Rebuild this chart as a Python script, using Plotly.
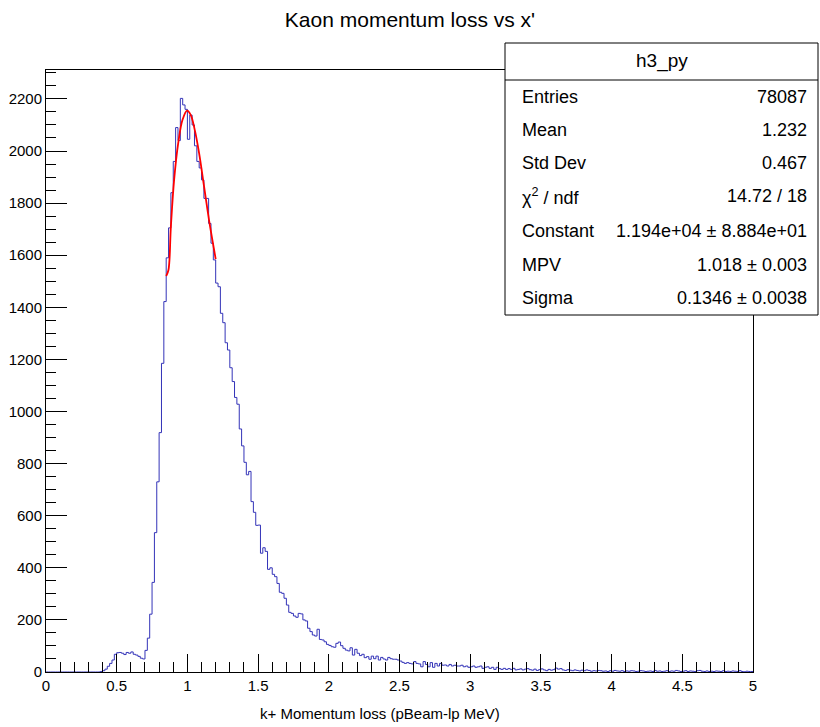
import numpy as np
import plotly.graph_objects as go

# ---------------- data ----------------
n_bins = 300
x_min, x_max = 0.0, 5.0

counts = (
    [0] * 23 +
    [2, 5, 11, 22, 33, 46, 68, 74, 75, 72,            # 23-32
     67, 75, 72, 77, 68, 65, 60, 53, 50, 83,           # 33-42
     130, 222, 344, 535, 730, 919, 1185, 1422, 1590, 1705,   # 43-52
     1840, 1960, 2090, 2040, 2202, 2177, 2160, 2045, 2138, 2100,  # 53-62
     2020, 1960, 1935, 1889, 1818, 1818, 1722, 1646, 1582, 1493,  # 63-72
     1479, 1377, 1341, 1264, 1236, 1168, 1115, 1054, 1028, 933,   # 73-82
     868, 805, 757, 770, 654, 613, 563, 564, 456, 477,            # 83-92
     463, 394, 400, 375, 366, 340, 306, 302, 283, 257,            # 93-102
     229, 225, 215, 210, 225, 223, 200, 196, 168, 155,            # 103-112
     142, 138, 164, 125, 123, 116, 106, 102, 97, 95,              # 113-122
     110, 115, 101, 91, 84, 81, 93, 65, 87, 72,                   # 123-132
     63, 68, 55, 59, 49, 61, 51, 61, 46, 56,                      # 133-142
     50, 46, 56, 51, 49, 49, 46, 42, 37, 33,                      # 143-152
     36, 33, 31, 40, 33, 31, 20, 40, 29, 20,                      # 153-162
     36, 18, 33, 23, 33, 26, 27, 23, 29, 23,                      # 163-172
     26, 23, 23, 26, 20, 23, 18, 20, 23, 18,                      # 173-182
     20, 23, 14, 18, 20, 14, 18, 10, 18, 13,                      # 183-192
     10, 14, 10, 13, 10, 14, 8,                                   # 193-199
     10, 12, 8, 11, 13, 9, 7, 11, 6, 9,                           # 200-209
     12, 8, 5, 10, 7, 9, 15, 11, 13, 8,                           # 210-219
     6, 9, 7, 5, 8, 6, 4, 7, 5, 8,                                # 220-229
     6, 3, 5, 4, 6, 5, 3, 4, 2, 5,                                # 230-239
     3, 6, 4, 3, 5, 2, 4, 3, 5, 4,                                # 240-249
     2, 3, 5, 4, 2, 3, 4, 2, 6, 3,                                # 250-259
     4, 2, 3, 5, 2, 4, 3, 6, 4, 2,                                # 260-269
     3, 5, 2, 4, 3, 2, 5, 6, 3, 2,                                # 270-279
     4, 2, 3, 2, 4, 3, 2, 5, 2, 3,                                # 280-289
     2, 4, 3, 2, 5, 2, 1, 3, 2, 2]                                # 290-299
)

# red fit curve
fit_x = [0.850, 0.866, 0.883, 0.906, 0.935, 0.965, 0.998, 1.024, 1.052,
         1.083, 1.118, 1.153, 1.189, 1.200]
fit_y = [1520, 1543, 1709, 1889, 2030, 2119, 2155, 2138, 2081,
         1991, 1863, 1735, 1620, 1585]

title_text = "Kaon momentum loss vs x'"
xaxis_title = "k+ Momentum loss (pBeam-lp MeV)"
x_tick_vals = [0, 0.5, 1, 1.5, 2, 2.5, 3, 3.5, 4, 4.5, 5]
x_tick_text = ["0", "0.5", "1", "1.5", "2", "2.5", "3", "3.5", "4", "4.5", "5"]

stats_name = "h3_py"
stats_labels = ["Entries", "Mean", "Std Dev", "\u03c7<sup>2</sup> / ndf",
                "Constant", "MPV", "Sigma"]
stats_values = ["78087", "1.232", "0.467", "14.72 / 18",
                "1.194e+04 \u00b1 8.884e+01", "1.018 \u00b1 0.003",
                "0.1346 \u00b1 0.0038"]

# ---------------- figure ----------------
W, H = 820, 727
L, R, T, B = 46, 753, 70, 672          # plot frame in pixels
FONT = "Liberation Sans, Arial, sans-serif"

edges = np.linspace(x_min, x_max, n_bins + 1)
hx = list(edges[:-1]) + [edges[-1]]
hy = list(counts) + [counts[-1]]

fig = go.Figure()
fig.add_trace(go.Scatter(x=hx, y=hy, mode="lines", line_shape="hv",
                         line=dict(color="#3333b8", width=1),
                         hoverinfo="skip", showlegend=False))
fig.add_trace(go.Scatter(x=fit_x, y=fit_y, mode="lines", line_shape="spline",
                         line=dict(color="#ff0000", width=1.8),
                         hoverinfo="skip", showlegend=False))

def px(xp):
    return (xp - L) / (R - L)

def py(yp):
    return (B - yp) / (B - T)

# stats box
bx0, bx1, by0, by1, bsep = 505, 818, 43, 315, 80
shapes = [
    dict(type="rect", xref="paper", yref="paper",
         x0=px(bx0), x1=px(bx1), y0=py(by1), y1=py(by0),
         line=dict(color="black", width=1), fillcolor="white", layer="above"),
    dict(type="line", xref="paper", yref="paper",
         x0=px(bx0), x1=px(bx1), y0=py(bsep), y1=py(bsep),
         line=dict(color="black", width=1), layer="above"),
]
annotations = [
    dict(text=stats_name, xref="paper", yref="paper", x=px((bx0 + bx1) / 2),
         y=py(61), xanchor="center", yanchor="middle", showarrow=False,
         font=dict(family=FONT, size=19, color="black")),
]
row_y = [97, 130, 163, 196, 231, 265, 298]
for lab, val, ry in zip(stats_labels, stats_values, row_y):
    annotations.append(dict(text=lab, xref="paper", yref="paper", x=px(520),
                            y=py(ry), xanchor="left", yanchor="middle",
                            showarrow=False,
                            font=dict(family=FONT, size=18, color="black")))
    annotations.append(dict(text=val, xref="paper", yref="paper", x=px(809),
                            y=py(ry), xanchor="right", yanchor="middle",
                            showarrow=False,
                            font=dict(family=FONT, size=18, color="black")))
# x-axis title
annotations.append(dict(text=xaxis_title, xref="paper", yref="paper",
                        x=px(380), y=py(714), xanchor="center",
                        yanchor="middle", showarrow=False,
                        font=dict(family=FONT, size=15, color="black")))

fig.update_layout(
    width=W, height=H,
    margin=dict(l=L, r=W - R, t=T, b=H - B, autoexpand=False),
    paper_bgcolor="white", plot_bgcolor="white",
    title=dict(text=title_text, x=0.5, xanchor="center", y=1 - 20 / H,
               yanchor="middle", automargin=False,
               font=dict(family=FONT, size=21, color="black")),
    shapes=shapes, annotations=annotations,
    font=dict(family=FONT, color="black"),
)
fig.update_xaxes(range=[x_min, x_max], tickmode="array", tickvals=x_tick_vals,
                 ticktext=x_tick_text, ticks="inside", ticklen=18,
                 tickcolor="black", tickwidth=1, automargin=False,
                 minor=dict(dtick=0.1, ticks="inside", ticklen=10,
                            tickcolor="black", tickwidth=1),
                 showgrid=False, zeroline=False, showline=True, mirror=True,
                 linecolor="black", linewidth=1,
                 tickfont=dict(family=FONT, size=15, color="black"))
fig.update_yaxes(range=[0, 2311], dtick=200, tick0=0, ticks="inside",
                 ticklen=21, tickcolor="black", tickwidth=1, automargin=False,
                 minor=dict(dtick=50, ticks="inside", ticklen=10,
                            tickcolor="black", tickwidth=1),
                 showgrid=False, zeroline=False, showline=True, mirror=True,
                 linecolor="black", linewidth=1,
                 tickfont=dict(family=FONT, size=15, color="black"))

fig.write_html("out.html",
               config={"displayModeBar": False, "staticPlot": True},
               post_script="document.body.style.margin='0';"
                           "document.body.style.overflow='hidden';")
